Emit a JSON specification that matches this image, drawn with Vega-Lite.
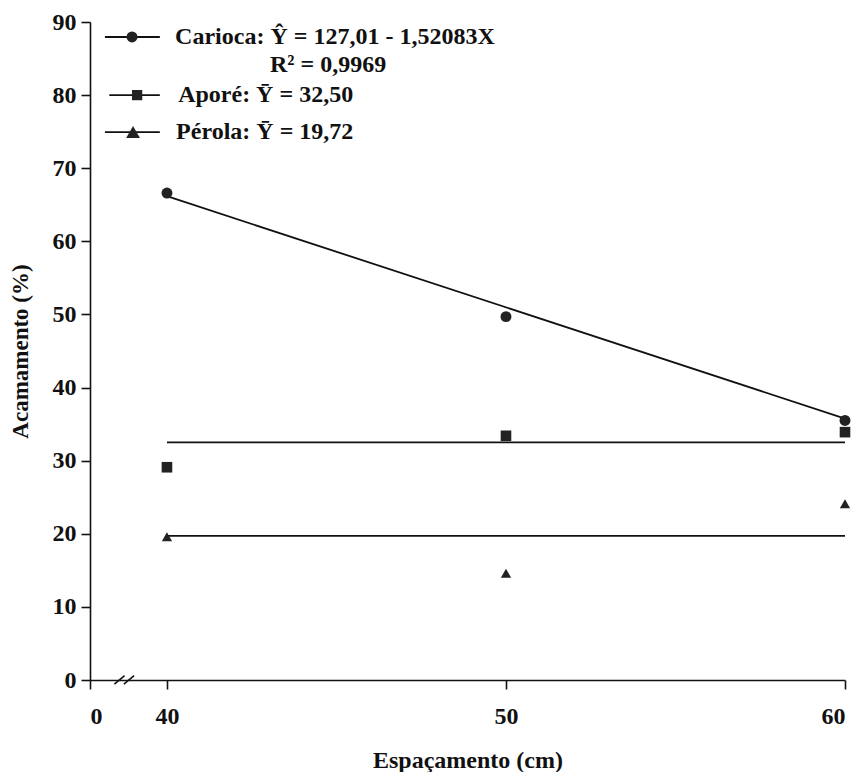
{
  "$schema": "https://vega.github.io/schema/vega-lite/v6.json",
  "width": 755,
  "height": 658,
  "autosize": "none",
  "padding": {"left": 90, "top": 22, "right": 16, "bottom": 92},
  "background": "white",
  "config": {
    "view": {"stroke": null},
    "font": "Liberation Serif",
    "axis": {
      "grid": false,
      "domainColor": "#111111",
      "domainWidth": 1.6,
      "tickColor": "#111111",
      "tickWidth": 1.6,
      "tickSize": 9,
      "labelColor": "#111111",
      "labelFont": "Liberation Serif",
      "labelFontSize": 24,
      "labelFontWeight": "bold",
      "titleColor": "#111111",
      "titleFont": "Liberation Serif",
      "titleFontSize": 24,
      "titleFontWeight": "bold"
    }
  },
  "datasets": {
    "observado": [
      {"Cultivar": "Carioca", "Espacamento": 40, "Acamamento": 66.6},
      {"Cultivar": "Carioca", "Espacamento": 50, "Acamamento": 49.7},
      {"Cultivar": "Carioca", "Espacamento": 60, "Acamamento": 35.5},
      {"Cultivar": "Aporé", "Espacamento": 40, "Acamamento": 29.1},
      {"Cultivar": "Aporé", "Espacamento": 50, "Acamamento": 33.4},
      {"Cultivar": "Aporé", "Espacamento": 60, "Acamamento": 33.9},
      {"Cultivar": "Pérola", "Espacamento": 40, "Acamamento": 19.6},
      {"Cultivar": "Pérola", "Espacamento": 50, "Acamamento": 14.6},
      {"Cultivar": "Pérola", "Espacamento": 60, "Acamamento": 24.1}
    ],
    "ajustado": [
      {"Cultivar": "Carioca", "Espacamento": 40, "Estimado": 66.18},
      {"Cultivar": "Carioca", "Espacamento": 60, "Estimado": 35.76},
      {"Cultivar": "Aporé", "Espacamento": 40, "Estimado": 32.50},
      {"Cultivar": "Aporé", "Espacamento": 60, "Estimado": 32.50},
      {"Cultivar": "Pérola", "Espacamento": 40, "Estimado": 19.72},
      {"Cultivar": "Pérola", "Espacamento": 60, "Estimado": 19.72}
    ]
  },
  "layer": [
    {
      "data": {"name": "ajustado"},
      "mark": {"type": "line", "color": "#111111", "strokeWidth": 1.8},
      "encoding": {
        "x": {
          "field": "Espacamento",
          "type": "quantitative",
          "scale": {"domain": [37.73, 60], "nice": false, "zero": false},
          "axis": {
            "title": "Espaçamento (cm)",
            "values": [37.73, 40, 50, 60],
            "labelExpr": "datum.value < 39 ? '0' : format(datum.value, 'd')",
            "labelPadding": 15,
            "titlePadding": 20
          }
        },
        "y": {
          "field": "Estimado",
          "type": "quantitative",
          "scale": {"domain": [0, 90], "nice": false},
          "axis": {
            "title": "Acamamento (%)",
            "titleFontSize": 23,
            "values": [0, 10, 20, 30, 40, 50, 60, 70, 80, 90],
            "labelPadding": 5,
            "titlePadding": 20
          }
        },
        "detail": {"field": "Cultivar"}
      }
    },
    {
      "data": {"name": "observado"},
      "mark": {"type": "point", "filled": true, "color": "#222222", "opacity": 1},
      "encoding": {
        "x": {"field": "Espacamento", "type": "quantitative"},
        "y": {"field": "Acamamento", "type": "quantitative"},
        "shape": {
          "field": "Cultivar",
          "type": "nominal",
          "scale": {"domain": ["Carioca", "Aporé", "Pérola"], "range": ["circle", "square", "triangle-up"]},
          "legend": null
        },
        "size": {
          "field": "Cultivar",
          "type": "nominal",
          "scale": {"domain": ["Carioca", "Aporé", "Pérola"], "range": [120, 105, 190]},
          "legend": null
        }
      }
    },
    {
      "data": {"values": [{"a": 38.45, "b": 38.75}, {"a": 38.73, "b": 39.03}]},
      "mark": {"type": "rule", "color": "#111111", "strokeWidth": 1.6},
      "encoding": {
        "x": {"field": "a", "type": "quantitative"},
        "x2": {"field": "b"},
        "y": {"datum": -0.55},
        "y2": {"datum": 0.6}
      }
    },
    {
      "data": {"values": [{"Cultivar": "Carioca"}]},
      "layer": [
        {
          "mark": {"type": "rule", "color": "#111111", "strokeWidth": 1.8},
          "encoding": {"x": {"datum": 38.17}, "x2": {"datum": 39.79}, "y": {"datum": 87.95}}
        },
        {
          "mark": {"type": "point", "shape": "circle", "filled": true, "color": "#222222", "opacity": 1, "size": 120},
          "encoding": {"x": {"datum": 38.97}, "y": {"datum": 87.95}}
        },
        {
          "mark": {"type": "text", "align": "left", "baseline": "middle", "font": "Liberation Serif", "fontSize": 24, "fontWeight": "bold", "color": "#111111", "text": "Carioca: Ŷ = 127,01 - 1,52083X"},
          "encoding": {"x": {"datum": 40.24}, "y": {"datum": 87.95}}
        },
        {
          "mark": {"type": "text", "align": "left", "baseline": "middle", "font": "Liberation Serif", "fontSize": 24, "fontWeight": "bold", "color": "#111111", "text": "R² = 0,9969"},
          "encoding": {"x": {"datum": 43.04}, "y": {"datum": 84.1}}
        }
      ]
    },
    {
      "data": {"values": [{"Cultivar": "Aporé"}]},
      "layer": [
        {
          "mark": {"type": "rule", "color": "#111111", "strokeWidth": 1.8},
          "encoding": {"x": {"datum": 38.3}, "x2": {"datum": 39.79}, "y": {"datum": 80.0}}
        },
        {
          "mark": {"type": "point", "shape": "square", "filled": true, "color": "#222222", "opacity": 1, "size": 105},
          "encoding": {"x": {"datum": 39.12}, "y": {"datum": 80.0}}
        },
        {
          "mark": {"type": "text", "align": "left", "baseline": "middle", "font": "Liberation Serif", "fontSize": 24, "fontWeight": "bold", "color": "#111111", "text": "Aporé: Ȳ = 32,50"},
          "encoding": {"x": {"datum": 40.33}, "y": {"datum": 80.0}}
        }
      ]
    },
    {
      "data": {"values": [{"Cultivar": "Pérola"}]},
      "layer": [
        {
          "mark": {"type": "rule", "color": "#111111", "strokeWidth": 1.8},
          "encoding": {"x": {"datum": 38.17}, "x2": {"datum": 39.79}, "y": {"datum": 74.95}}
        },
        {
          "mark": {"type": "point", "shape": "triangle-up", "filled": true, "color": "#222222", "opacity": 1, "size": 190},
          "encoding": {"x": {"datum": 39.0}, "y": {"datum": 74.95}}
        },
        {
          "mark": {"type": "text", "align": "left", "baseline": "middle", "font": "Liberation Serif", "fontSize": 24, "fontWeight": "bold", "color": "#111111", "text": "Pérola: Ȳ = 19,72"},
          "encoding": {"x": {"datum": 40.27}, "y": {"datum": 74.95}}
        }
      ]
    }
  ]
}
